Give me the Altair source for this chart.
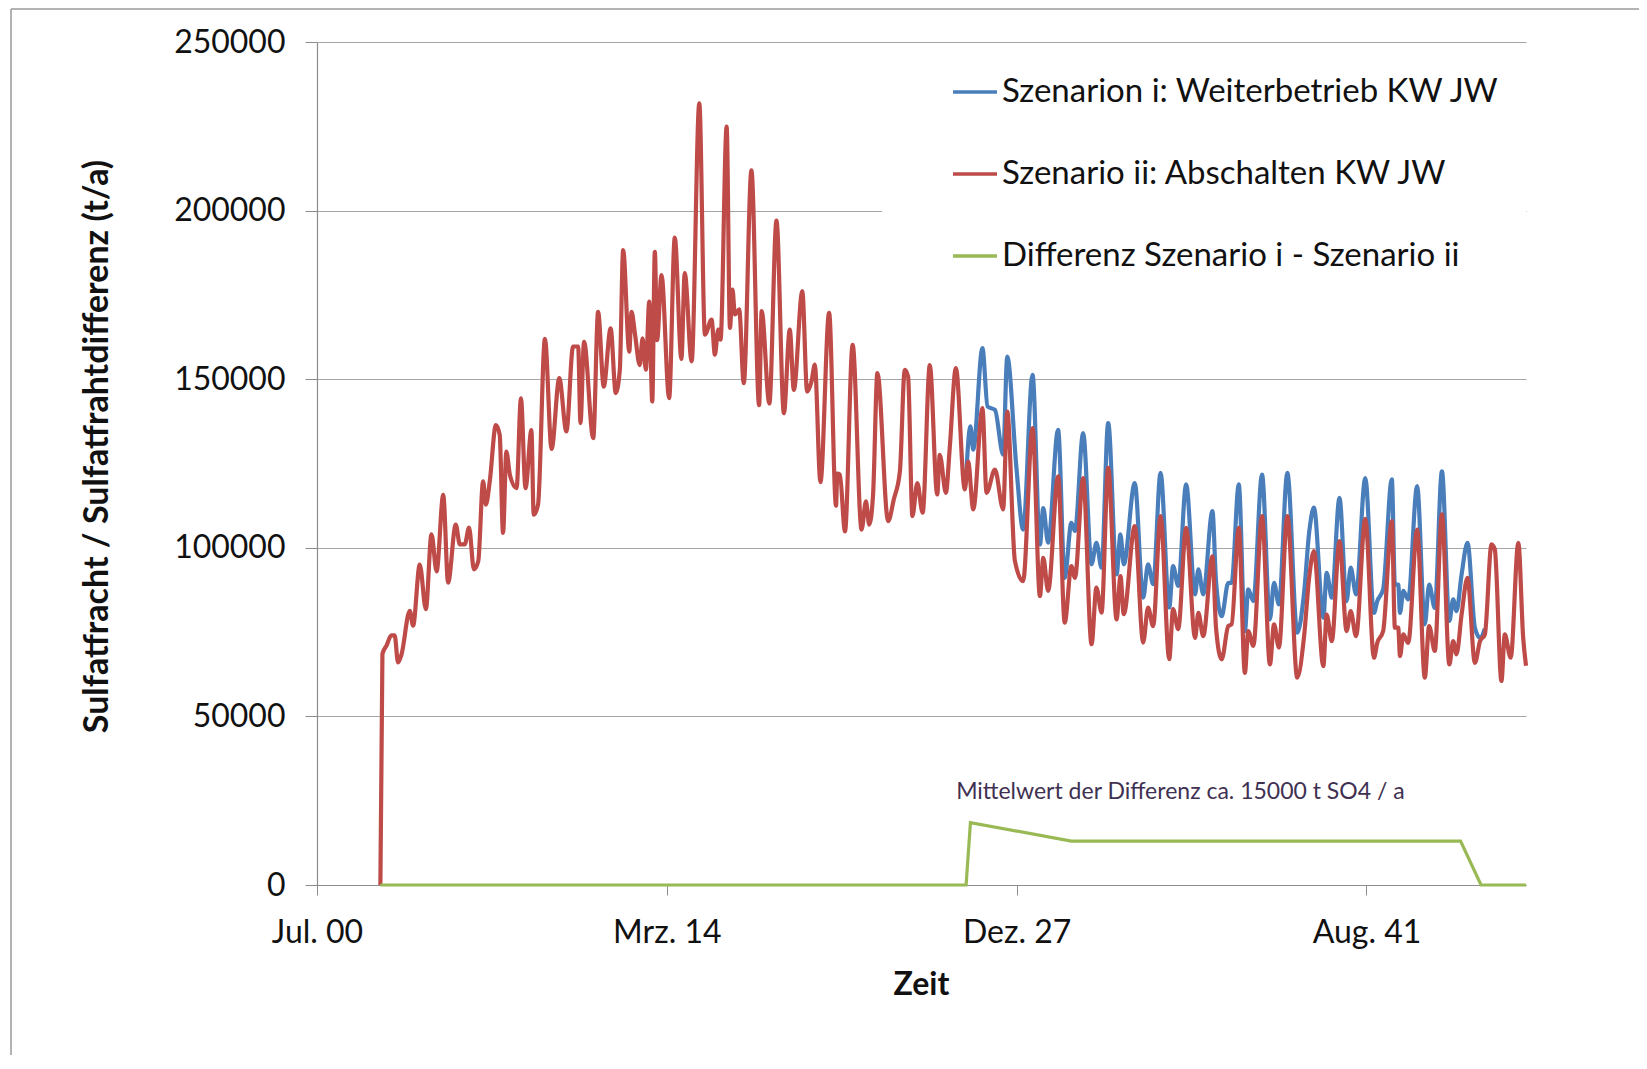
import altair as alt
import pandas as pd

# ---------------- data ----------------
RED_YEARS = [
    2003.03, 2003.11, 2003.27, 2003.46, 2003.59, 2003.72, 2003.86, 2004.18, 2004.31, 2004.57,
    2004.81, 2005.03, 2005.23, 2005.49, 2005.68, 2005.98, 2006.14, 2006.33, 2006.50, 2006.69,
    2006.86, 2007.05, 2007.16, 2007.31, 2007.55, 2007.70, 2007.83, 2007.96, 2008.10, 2008.36,
    2008.53, 2008.71, 2008.94, 2009.03, 2009.20, 2009.47, 2009.73, 2010.03, 2010.31, 2010.57,
    2010.77, 2010.86, 2011.00, 2011.36, 2011.55, 2011.77, 2012.04, 2012.24, 2012.40, 2012.53,
    2012.77, 2012.86, 2012.99, 2013.18, 2013.29, 2013.42, 2013.55, 2013.67, 2013.77, 2013.86,
    2014.03, 2014.33, 2014.55, 2014.81, 2014.94, 2015.21, 2015.51, 2015.73, 2015.99, 2016.12,
    2016.25, 2016.34, 2016.58, 2016.71, 2016.81, 2016.90, 2017.07, 2017.25, 2017.55, 2017.85,
    2017.95, 2018.25, 2018.53, 2018.82, 2019.05, 2019.21, 2019.54, 2019.73, 2019.90, 2020.03,
    2020.25, 2020.59, 2020.86, 2020.91, 2021.01, 2021.21, 2021.51, 2021.86, 2022.03, 2022.16,
    2022.31, 2022.48, 2022.90, 2023.12, 2023.36, 2023.55, 2023.68, 2023.85, 2024.04, 2024.25,
    2024.53, 2024.82, 2024.92, 2025.16, 2025.31, 2025.55, 2025.90, 2026.03, 2026.23, 2026.59,
    2026.75, 2027.08, 2027.40, 2027.56, 2027.86, 2028.18, 2028.55, 2028.84, 2028.97, 2029.16,
    2029.55, 2029.81, 2030.07, 2030.21, 2030.53, 2030.86, 2031.05, 2031.25, 2031.51, 2031.84,
    2031.99, 2032.12, 2032.55, 2032.88, 2033.07, 2033.27, 2033.56, 2033.90, 2034.05, 2034.25,
    2034.56, 2034.91, 2035.04, 2035.23, 2035.59, 2035.73, 2035.95, 2036.21, 2036.34, 2036.62,
    2036.86, 2036.99, 2037.19, 2037.53, 2037.84, 2038.00, 2038.19, 2038.52, 2038.91, 2039.17,
    2039.38, 2039.56, 2039.93, 2040.06, 2040.26, 2040.56, 2040.84, 2041.00, 2041.21, 2041.57,
    2041.91, 2042.04, 2042.27, 2042.61, 2042.73, 2042.86, 2042.93, 2043.06, 2043.25, 2043.60,
    2043.90, 2044.07, 2044.29, 2044.57, 2044.86, 2045.01, 2045.14, 2045.34, 2045.57, 2045.86,
    2046.06, 2046.25, 2046.51, 2046.64, 2046.90, 2047.03, 2047.26, 2047.56, 2047.75, 2047.86,
]
RED_VALUES = [
    0, 68500, 71000, 74000, 74000, 66000, 68500, 81300, 76900, 95000,
    81800, 104000, 93000, 115700, 89700, 106900, 101000, 101000, 106000, 93600,
    96000, 119700, 112800, 119700, 136400, 133500, 104400, 128500, 121600, 117700,
    144300, 117700, 134900, 109800, 112800, 162000, 129300, 150300, 134500, 159700,
    159700, 137000, 161100, 132500, 170000, 147800, 165100, 145900, 152800, 188300,
    158200, 170000, 163600, 154200, 162100, 152800, 173000, 143400, 187800, 161600,
    180900, 144400, 192000, 156000, 181500, 155300, 231800, 163200, 167700, 157300,
    164700, 161700, 224900, 165200, 176600, 169200, 170700, 148800, 211900, 142300,
    170200, 142800, 197000, 139900, 164700, 146800, 176100, 146300, 149300, 154300,
    119500, 169700, 112500, 122000, 121700, 104900, 160200, 105400, 113800, 106900,
    115800, 151800, 107900, 114300, 122700, 152800, 150800, 109400, 119200, 110400,
    154200, 115800, 127600, 116300, 129600, 153300, 117300, 125600, 111400, 141400,
    116300, 123200, 111400, 140400, 96100, 90100, 135500, 85700, 97000, 87200,
    121200, 77800, 94600, 91100, 120700, 71400, 88200, 80800, 123700, 78800,
    91600, 80300, 106400, 71900, 82300, 76800, 109400, 67000, 81800, 75900,
    105900, 73300, 80700, 73800, 97500, 76300, 66900, 76800, 77300, 105900,
    62900, 75300, 70900, 109400, 65400, 77300, 70400, 109400, 61500, 73300,
    91600, 99000, 64900, 80200, 72300, 102000, 75300, 81200, 73800, 108600,
    67400, 71800, 75300, 107900, 76300, 76300, 67900, 74300, 71800, 105400,
    61500, 76800, 69400, 109900, 65400, 72300, 68400, 80200, 91100, 65900,
    72300, 74300, 101000, 99500, 60500, 74300, 67400, 101500, 73300, 65000,
]

BLUE_YEARS = [
    2025.95, 2026.12, 2026.23, 2026.59, 2026.79, 2027.08, 2027.40, 2027.56, 2027.92, 2028.18,
    2028.55, 2028.84, 2028.97, 2029.16, 2029.55, 2029.81, 2030.07, 2030.21, 2030.53, 2030.86,
    2031.05, 2031.25, 2031.51, 2031.84, 2031.99, 2032.12, 2032.55, 2032.88, 2033.07, 2033.27,
    2033.56, 2033.90, 2034.05, 2034.25, 2034.56, 2034.91, 2035.04, 2035.23, 2035.59, 2035.73,
    2035.95, 2036.21, 2036.34, 2036.62, 2036.86, 2036.99, 2037.19, 2037.53, 2037.84, 2038.00,
    2038.19, 2038.52, 2038.91, 2039.17, 2039.38, 2039.56, 2039.93, 2040.06, 2040.26, 2040.56,
    2040.84, 2041.00, 2041.21, 2041.57, 2041.91, 2042.04, 2042.27, 2042.61, 2042.73, 2042.86,
    2042.93, 2043.06, 2043.25, 2043.60, 2043.90, 2044.07, 2044.29, 2044.57, 2044.86, 2045.01,
    2045.14, 2045.34, 2045.57, 2045.86, 2046.06, 2046.25,
]
BLUE_VALUES = [
    121000, 136000, 129100, 159200, 141900, 140900, 127600, 156700, 123700, 105400,
    151300, 101000, 111800, 101500, 135000, 91100, 107400, 105000, 134000, 95100,
    101500, 94100, 137000, 92100, 104000, 95100, 119200, 85200, 95100, 89200,
    122200, 82300, 94600, 88700, 118800, 86200, 93600, 86200, 110900, 90100,
    79700, 89600, 89600, 118800, 75300, 87700, 84200, 121700, 78800, 89600,
    83200, 122200, 74800, 86200, 104900, 111900, 79300, 92600, 85200, 114800,
    84200, 94100, 86200, 120700, 80700, 84200, 87700, 120300, 89100, 89100,
    80700, 87200, 84700, 118300, 77300, 89100, 82200, 122700, 78300, 84700,
    81200, 92100, 101500, 76300, 73300, 76000,
]

GREEN_YEARS = [2003.03, 2025.95, 2026.12, 2030.07, 2045.30, 2046.10, 2047.86]
GREEN_VALUES = [0, 0, 18500, 13000, 13000, 0, 0]

SERIES_NAMES = [
    "Szenarion i: Weiterbetrieb KW JW",
    "Szenario ii: Abschalten KW JW",
    "Differenz Szenario i - Szenario ii",
]
SERIES_COLORS = ["#4a7ebb", "#be4b48", "#98b954"]

X_START = 2000.55          # "Jul. 00"
X_STEP = 13.689            # 5000 days between labelled ticks
X_END = 2047.86
X_TICK_LABELS = ["Jul. 00", "Mrz. 14", "Dez. 27", "Aug. 41"]
Y_TICKS = [0, 50000, 100000, 150000, 200000, 250000]

ANNOTATION_TEXT = ["Mittelwert der Differenz ca. 15000 t SO4 / a"]
ANNOTATION_X = [2025.56]
ANNOTATION_Y = [27500]

X_TITLE = "Zeit"
Y_TITLE = "Sulfatfracht / Sulfatfrahtdifferenz  (t/a)"

# ---------------- chart ----------------
W, H = 1209, 843
FONT = "Lato"

x_ticks = [X_START + i * X_STEP for i in range(len(X_TICK_LABELS))]
label_arr = "[" + ",".join("'" + s + "'" for s in X_TICK_LABELS) + "]"
label_expr = f"{label_arr}[round((datum.value - {X_START}) / {X_STEP})]"

df_red = pd.DataFrame({"t": RED_YEARS, "v": RED_VALUES, "s": SERIES_NAMES[1]})
df_blue = pd.DataFrame({"t": BLUE_YEARS, "v": BLUE_VALUES, "s": SERIES_NAMES[0]})
df_green = pd.DataFrame({"t": GREEN_YEARS, "v": GREEN_VALUES, "s": SERIES_NAMES[2]})
df_ann = pd.DataFrame({"t": ANNOTATION_X, "v": ANNOTATION_Y, "txt": ANNOTATION_TEXT})

x_enc = alt.X(
    "t:Q",
    scale=alt.Scale(domain=[X_START, X_END], nice=False, zero=False),
    axis=alt.Axis(
        values=x_ticks, labelExpr=label_expr, title=X_TITLE, grid=False,
        tickSize=10, tickColor="#8c8c8c", domainColor="#8c8c8c", domainWidth=1.2,
        labelFont=FONT, labelFontSize=32, labelColor="#111111", labelPadding=22,
        labelFlush=False, labelOverlap=False,
        titleFont=FONT, titleFontSize=32, titleFontWeight="bold", titleColor="#111111",
        titleX=604, titleY=99, titleBaseline="middle", titleAlign="center",
    ),
)
y_enc = alt.Y(
    "v:Q",
    scale=alt.Scale(domain=[0, 250000], nice=False),
    axis=alt.Axis(
        values=Y_TICKS, format="d", title=Y_TITLE, grid=True,
        gridColor="#a6a6a6", gridWidth=1.2,
        tickSize=12, tickColor="#8c8c8c", domainColor="#8c8c8c", domainWidth=1.2,
        labelFont=FONT, labelFontSize=32, labelColor="#111111", labelPadding=20,
        titleFont=FONT, titleFontSize=34, titleFontWeight="bold", titleColor="#111111",
        titleX=-220, titleY=404, titleAngle=270, titleBaseline="middle", titleAlign="center",
    ),
)
color_enc = alt.Color(
    "s:N",
    scale=alt.Scale(domain=SERIES_NAMES, range=SERIES_COLORS),
    legend=alt.Legend(
        title=None, orient="none", legendX=634, legendY=26, padding=0,
        symbolType="stroke", symbolSize=1936, symbolStrokeWidth=3.5,
        labelFont=FONT, labelFontSize=33, labelColor="#111111", labelOffset=3,
        labelLimit=0, rowPadding=41,
    ),
)

one = pd.DataFrame({"a": [0]})

legend_bg = alt.Chart(one).mark_rect(fill="white", stroke=None).encode(
    x=alt.value(565), x2=alt.value(W), y=alt.value(20), y2=alt.value(235)
)

blue = alt.Chart(df_blue).mark_line(strokeWidth=4.2, strokeJoin="round", interpolate="monotone").encode(
    x=x_enc, y=y_enc, color=color_enc, order="t:Q"
)
red = alt.Chart(df_red).mark_line(strokeWidth=4.2, strokeJoin="round", interpolate="monotone").encode(
    x=x_enc, y=y_enc, color=color_enc, order="t:Q"
)
green = alt.Chart(df_green).mark_line(strokeWidth=3.2).encode(
    x=x_enc, y=y_enc, color=color_enc, order="t:Q"
)
ann = alt.Chart(df_ann).mark_text(
    align="left", baseline="middle", font=FONT, fontSize=23, color="#403152"
).encode(x="t:Q", y="v:Q", text="txt:N")

border_top = alt.Chart(one).mark_rule(color="#9a9a9a", strokeWidth=1.5).encode(
    x=alt.value(-306), x2=alt.value(W + 130), y=alt.value(-33)
)
border_left = alt.Chart(one).mark_rule(color="#9a9a9a", strokeWidth=1.5).encode(
    x=alt.value(-306), y=alt.value(-33), y2=alt.value(H + 200)
)

chart = alt.layer(legend_bg, blue, red, green, ann, border_top, border_left).properties(
    width=W, height=H,
    autosize=alt.AutoSizeParams(type="none"),
    padding={"left": 309, "top": 34, "right": 113, "bottom": 170},
    background="white",
).configure_view(stroke=None)

chart.save("out.html", embed_options={"renderer": "svg", "actions": False})
